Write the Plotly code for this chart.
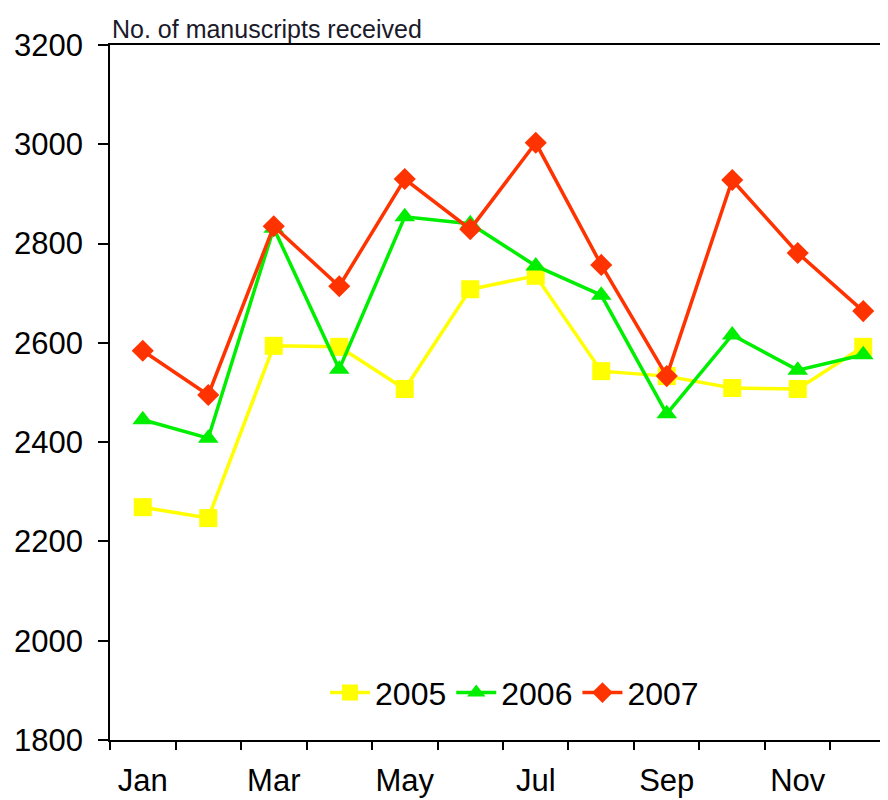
import plotly.graph_objects as go

months = ["Jan", "Feb", "Mar", "Apr", "May", "Jun", "Jul", "Aug", "Sep", "Oct", "Nov", "Dec"]
label_months = ["Jan", "Mar", "May", "Jul", "Sep", "Nov"]
y2005 = [2269, 2247, 2594, 2592, 2507, 2708, 2735, 2543, 2533, 2509, 2507, 2592]
y2006 = [2445, 2408, 2831, 2547, 2854, 2840, 2755, 2696, 2457, 2616, 2545, 2576]
y2007 = [2584, 2495, 2835, 2714, 2930, 2829, 3003, 2757, 2533, 2928, 2781, 2664]
y_ticks = [1800, 2000, 2200, 2400, 2600, 2800, 3000, 3200]

xs = list(range(len(months)))
font = "Liberation Sans, Arial, sans-serif"

fig = go.Figure()
series = [
    ("2005", y2005, "#FFFF00", "square", 18),
    ("2006", y2006, "#00EE00", "triangle-up", 18),
    ("2007", y2007, "#FF3300", "diamond", 17),
]
for name, ys, color, sym, size in series:
    fig.add_trace(go.Scatter(
        x=xs, y=ys, name=name, mode="lines+markers",
        line=dict(color=color, width=3.5),
        marker=dict(symbol=sym, size=size, color=color),
        customdata=months,
        hovertemplate="%{customdata}: %{y}<extra>" + name + "</extra>",
    ))

fig.update_layout(
    width=880, height=792,
    margin=dict(l=102, r=0, t=37, b=60),
    paper_bgcolor="white", plot_bgcolor="white",
    font=dict(family=font, size=31, color="black"),
    showlegend=True,
    legend=dict(orientation="h", x=0.52, y=0.068, xanchor="center", yanchor="middle",
                font=dict(size=32), bgcolor="rgba(0,0,0,0)", itemwidth=40,
                tracegroupgap=0),
    xaxis=dict(
        range=[-0.5, 11.378], showgrid=False, zeroline=False,
        showline=True, linecolor="black", linewidth=1.5, mirror=True,
        tickmode="array", tickvals=[xs[months.index(m)] for m in label_months],
        ticktext=label_months, ticks="", ticklabelstandoff=12,
        minor=dict(tickmode="array", tickvals=[i - 0.5 for i in range(len(months) + 1)],
                   ticks="outside", ticklen=8, tickwidth=1.5, tickcolor="black", showgrid=False),
    ),
    yaxis=dict(
        range=[1800, 3200], showgrid=False, zeroline=False,
        showline=True, linecolor="black", linewidth=1.5,
        tickmode="array", tickvals=y_ticks, ticks="outside", ticklen=10,
        tickwidth=1.5, tickcolor="black", ticklabelstandoff=9,
    ),
    annotations=[dict(
        text="No. of manuscripts received", xref="paper", yref="paper",
        x=0, y=1, xanchor="left", yanchor="bottom", showarrow=False,
        font=dict(size=25, color="#1a1a2a", family=font), yshift=0,
    )],
)

fig.write_html("out.html")
